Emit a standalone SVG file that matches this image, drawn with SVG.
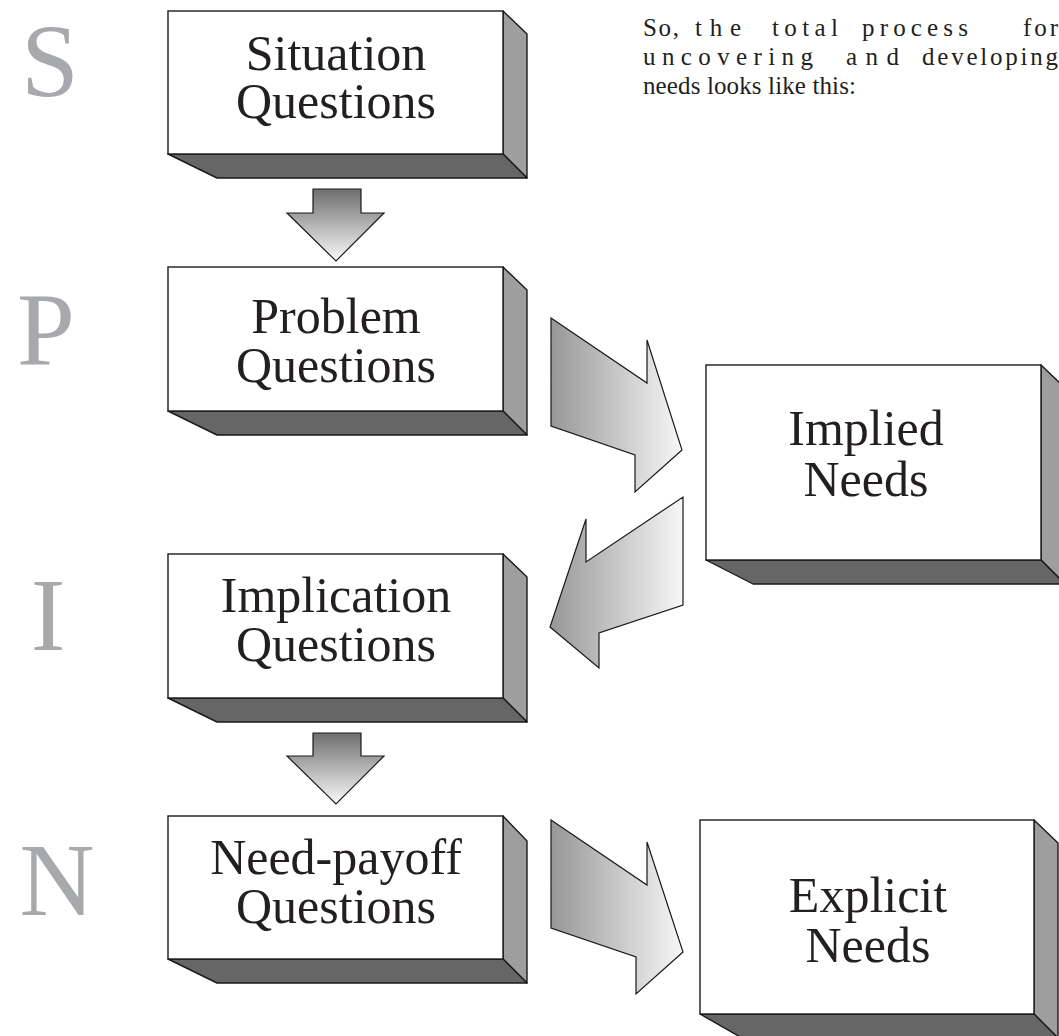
<svg xmlns="http://www.w3.org/2000/svg" width="1059" height="1036" viewBox="0 0 1059 1036">
  <style>
    .front { fill: #ffffff; stroke: #1a1a1a; stroke-width: 1.4; }
    .side { fill: #9e9e9e; stroke: #1a1a1a; stroke-width: 1.4; stroke-linejoin: round; }
    .bottom { fill: #666666; stroke: #1a1a1a; stroke-width: 1.4; stroke-linejoin: round; }
    .label { font-family: "Liberation Serif", "Times New Roman", serif; font-size: 50px; text-anchor: middle; fill: #231f20; }
    .letter { font-family: "Liberation Serif", "Times New Roman", serif; font-size: 104px; text-anchor: middle; fill: #a7a9ac; }
    .para { font-family: "Liberation Serif", "Times New Roman", serif; font-size: 25px; fill: #231f20; }
    .down { fill: url(#gradDown); stroke: #1a1a1a; stroke-width: 1.2; stroke-linejoin: miter; }
    .bend { fill: url(#gradSide); stroke: #1a1a1a; stroke-width: 1.2; stroke-linejoin: miter; }
  </style>
  <defs>
    <linearGradient id="gradDown" x1="0" y1="0" x2="0" y2="1">
      <stop offset="0" stop-color="#6e6e6e"/>
      <stop offset="1" stop-color="#fafafa"/>
    </linearGradient>
    <linearGradient id="gradSide" x1="0" y1="0" x2="1" y2="0">
      <stop offset="0" stop-color="#979797"/>
      <stop offset="1" stop-color="#f7f7f7"/>
    </linearGradient>
  </defs>

  <!-- SPIN letters -->
  <g id="spin-letters">
    <text class="letter" x="50" y="96">S</text>
    <text class="letter" x="46" y="365">P</text>
    <text class="letter" x="48" y="650">I</text>
    <text class="letter" x="57" y="915">N</text>
  </g>

  <!-- intro paragraph, justified word by word -->
  <g id="intro">
    <text class="para" y="36">
      <tspan x="643" textLength="36" lengthAdjust="spacing">So,</tspan>
      <tspan x="695" textLength="46" lengthAdjust="spacing">the</tspan>
      <tspan x="772" textLength="66" lengthAdjust="spacing">total</tspan>
      <tspan x="862" textLength="106" lengthAdjust="spacing">process</tspan>
      <tspan x="1023" textLength="35" lengthAdjust="spacing">for</tspan>
    </text>
    <text class="para" y="65">
      <tspan x="643" textLength="170" lengthAdjust="spacing">uncovering</tspan>
      <tspan x="846" textLength="53" lengthAdjust="spacing">and</tspan>
      <tspan x="922" textLength="136" lengthAdjust="spacing">developing</tspan>
    </text>
    <text class="para" x="643" y="94" textLength="213" lengthAdjust="spacing">needs looks like this:</text>
  </g>

  <!-- connectors -->
  <g id="connectors">
    <polygon class="down" points="313,189 361,189 361,213 384,213 336,261 287,213 313,213"/>
    <polygon class="bend" points="551,318 647,383 647,340 682,450 635,492 635,455 551,426"/>
    <polygon class="bend" points="683,497 683,605 599,633 599,668 550,627 586,519 586,562"/>
    <polygon class="down" points="313,733 361,733 361,756 384,756 336,804 287,756 313,756"/>
    <polygon class="bend" points="551,820 647,885 647,842 683,952 636,994 636,957 551,928"/>
  </g>

  <!-- Situation Questions -->
  <g id="situation">
    <polygon class="side" points="503,11 527,34 527,178 503,154"/>
    <polygon class="bottom" points="168,154 503,154 527,178 217,178"/>
    <rect class="front" x="168" y="11" width="335" height="143"/>
    <text class="label" x="336" y="70">Situation</text>
    <text class="label" x="336" y="118">Questions</text>
  </g>

  <!-- Problem Questions -->
  <g id="problem">
    <polygon class="side" points="503,267 527,290 527,435 503,411"/>
    <polygon class="bottom" points="168,411 503,411 527,435 217,435"/>
    <rect class="front" x="168" y="267" width="335" height="144"/>
    <text class="label" x="336" y="333">Problem</text>
    <text class="label" x="336" y="382">Questions</text>
  </g>

  <!-- Implication Questions -->
  <g id="implication">
    <polygon class="side" points="503,554 527,577 527,722 503,698"/>
    <polygon class="bottom" points="168,698 503,698 527,722 217,722"/>
    <rect class="front" x="168" y="554" width="335" height="144"/>
    <text class="label" x="336" y="612">Implication</text>
    <text class="label" x="336" y="661">Questions</text>
  </g>

  <!-- Need-payoff Questions -->
  <g id="need-payoff">
    <polygon class="side" points="503,816 527,841 527,983 503,959"/>
    <polygon class="bottom" points="168,959 503,959 527,983 217,983"/>
    <rect class="front" x="168" y="816" width="335" height="143"/>
    <text class="label" x="336" y="874">Need-payoff</text>
    <text class="label" x="336" y="923">Questions</text>
  </g>

  <!-- Implied Needs -->
  <g id="implied-needs">
    <polygon class="side" points="1041,365 1065,388 1065,584 1041,560"/>
    <polygon class="bottom" points="706,560 1041,560 1065,584 753,584"/>
    <rect class="front" x="706" y="365" width="335" height="195"/>
    <text class="label" x="866" y="445">Implied</text>
    <text class="label" x="866" y="496">Needs</text>
  </g>

  <!-- Explicit Needs -->
  <g id="explicit-needs">
    <polygon class="side" points="1034,820 1058,843 1058,1038 1034,1014"/>
    <polygon class="bottom" points="700,1014 1034,1014 1058,1038 742,1038"/>
    <rect class="front" x="700" y="820" width="334" height="194"/>
    <text class="label" x="868" y="912">Explicit</text>
    <text class="label" x="868" y="962">Needs</text>
  </g>
</svg>
